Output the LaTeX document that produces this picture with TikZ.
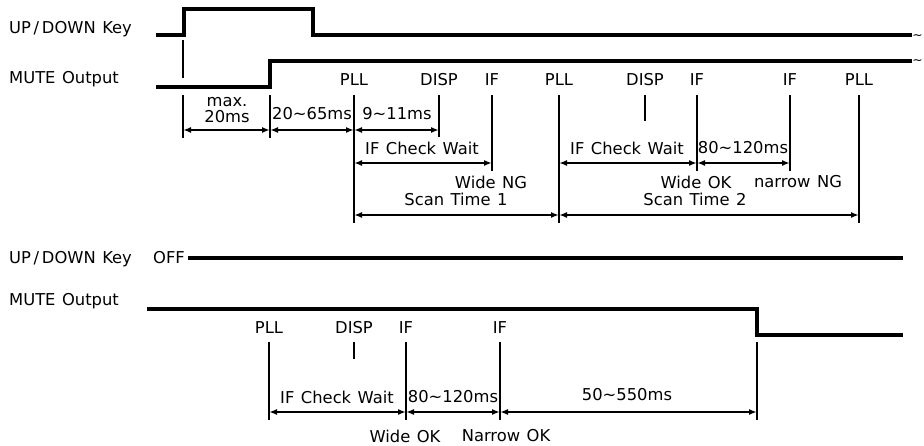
\documentclass[tikz,border=0pt]{standalone}
\usepackage{fontspec}
\setmainfont[WordSpace={1.25}]{DejaVu Sans}
\usetikzlibrary{arrows.meta}
\begin{document}
\begin{tikzpicture}[x=1bp,y=-1bp,
  sig/.style={line width=3.4bp, line join=miter, line cap=butt},
  tickline/.style={line width=1.9bp},
  dim/.style={line width=1.9bp, >={Latex[length=8bp,width=6bp]}, <->},
  lbl/.style={font=\fontsize{16.4}{18}\selectfont, inner sep=0pt},
  tl/.style={font=\fontsize{12.5}{13}\selectfont, inner sep=0pt},
]
\fill[white] (0,0) rectangle (924,446);
\useasboundingbox (0,0) rectangle (924,446);

% ---------- top section ----------
\node[lbl, anchor=west] (k1) at (9,29) {UP\,/\,DOWN Key};
\node[lbl, anchor=west] (m1) at (9,79) {MUTE Output};
\draw[sig] (156,35) -- (184,35) -- (184,9) -- (313,9) -- (313,35) -- (912,35);
\draw[sig] (156,87) -- (270,87) -- (270,61) -- (912,61);
\node[tl] (t1) at (917.5,37) {\textasciitilde};
\node[tl] (t2) at (917.5,62) {\textasciitilde};

% labels
\node[lbl] (p1) at (354,80) {PLL};
\node[lbl] (d1) at (439,80) {DISP};
\node[lbl] (i1) at (492,80) {IF};
\node[lbl] (p2) at (559,80) {PLL};
\node[lbl] (d2) at (645,80) {DISP};
\node[lbl] (i2) at (697,80) {IF};
\node[lbl] (i3) at (790,80) {IF};
\node[lbl] (p3) at (859,80) {PLL};

% ticks
\draw[tickline] (183,40) -- (183,78);
\draw[tickline] (183,95) -- (183,138);
\draw[tickline] (270,95) -- (270,138);
\draw[tickline] (354,95) -- (354,223);
\draw[tickline] (439,95) -- (439,137);
\draw[tickline] (492,95) -- (492,171);
\draw[tickline] (559,95) -- (559,223);
\draw[tickline] (645,95) -- (645,121);
\draw[tickline] (697,95) -- (697,171);
\draw[tickline] (790,95) -- (790,171);
\draw[tickline] (859,95) -- (859,223);

% dimension arrows
\coordinate (a1) at (183,130); \coordinate (a2) at (270,130);
\coordinate (a3) at (354,130); \coordinate (a4) at (439,130);
\draw[dim] (a1) -- (a2);
\draw[dim] (a2) -- (a3);
\draw[dim] (a3) -- (a4);
\coordinate (b1) at (354,163); \coordinate (b2) at (492,163);
\coordinate (b3) at (559,163); \coordinate (b4) at (697,163);
\coordinate (b5) at (790,163);
\draw[dim] (b1) -- (b2);
\draw[dim] (b3) -- (b4);
\draw[dim] (b4) -- (b5);
\coordinate (c1) at (354,215); \coordinate (c2) at (559,215);
\coordinate (c3) at (859,215);
\draw[dim] (c1) -- (c2);
\draw[dim] (c2) -- (c3);

\node[lbl] (mx) at (227,102) {max.};
\node[lbl] (mx2) at (227,117) {20ms};
\node[lbl] (r1) at (312,114) {20\textasciitilde65ms};
\node[lbl] (r2) at (397,114) {9\textasciitilde11ms};
\node[lbl] (w1) at (422,148) {IF Check Wait};
\node[lbl] (w2) at (627,148) {IF Check Wait};
\node[lbl] (r3) at (743,148) {80\textasciitilde120ms};
\node[lbl] (n1) at (491,182) {Wide NG};
\node[lbl] (s1) at (456,199) {Scan Time 1};
\node[lbl] (o1) at (696,182) {Wide OK};
\node[lbl] (n2) at (798,182) {narrow NG};
\node[lbl] (s2) at (695,199) {Scan Time 2};

% ---------- bottom section ----------
\node[lbl, anchor=west] (k2) at (9,259) {UP\,/\,DOWN Key};
\node[lbl] (off) at (169,258) {OFF};
\draw[sig] (188,258) -- (903,258);
\node[lbl, anchor=west] (m2) at (9,301) {MUTE Output};
\draw[sig] (147,309) -- (757,309) -- (757,335) -- (903,335);

\node[lbl] (p4) at (269,328) {PLL};
\node[lbl] (d4) at (354,328) {DISP};
\node[lbl] (i4) at (406,328) {IF};
\node[lbl] (i5) at (500,328) {IF};

\draw[tickline] (269,342) -- (269,420);
\draw[tickline] (354,342) -- (354,359);
\draw[tickline] (406,342) -- (406,420);
\draw[tickline] (500,342) -- (500,420);
\draw[tickline] (757,342) -- (757,420);

\coordinate (e1) at (269,412); \coordinate (e2) at (406,412);
\coordinate (e3) at (500,412); \coordinate (e4) at (757,412);
\draw[dim] (e1) -- (e2);
\draw[dim] (e2) -- (e3);
\draw[dim] (e3) -- (e4);

\node[lbl] (w3) at (337,397) {IF Check Wait};
\node[lbl] (r4) at (453,397) {80\textasciitilde120ms};
\node[lbl] (r5) at (627,395) {50\textasciitilde550ms};
\node[lbl] (o2) at (405,436) {Wide OK};
\node[lbl] (o3) at (506,436) {Narrow OK};
\end{tikzpicture}
\end{document}
